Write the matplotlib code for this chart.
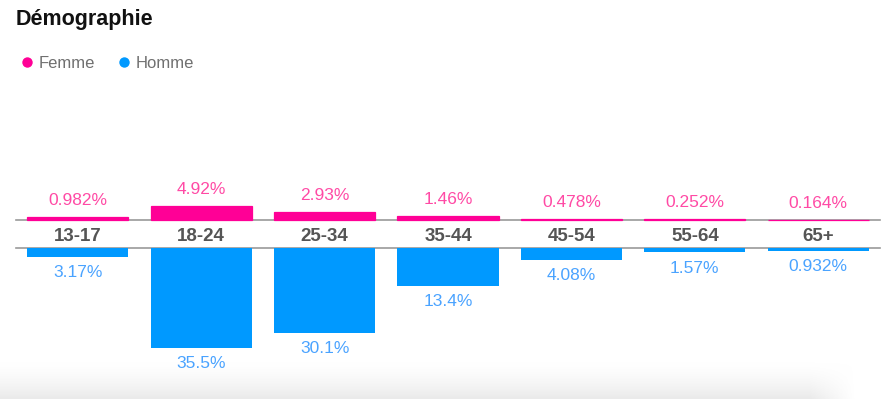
import numpy as np
import matplotlib
matplotlib.use("Agg")
import matplotlib.pyplot as plt
from matplotlib.lines import Line2D

plt.rcParams["font.family"] = ["Liberation Sans", "DejaVu Sans"]

ages = ["13-17", "18-24", "25-34", "35-44", "45-54", "55-64", "65+"]
femme = [0.982, 4.92, 2.93, 1.46, 0.478, 0.252, 0.164]
homme = [3.17, 35.5, 30.1, 13.4, 4.08, 1.57, 0.932]
femme_txt = ["0.982%", "4.92%", "2.93%", "1.46%", "0.478%", "0.252%", "0.164%"]
homme_txt = ["3.17%", "35.5%", "30.1%", "13.4%", "4.08%", "1.57%", "0.932%"]

PINK = "#ff0096"
PINK_TXT = "#ff4aa5"
BLUE = "#0099ff"
BLUE_TXT = "#4aa3ff"
LINE = "#9a9a9a"

W, H = 892, 399
fig = plt.figure(figsize=(W / 100, H / 100), dpi=100)
fig.patch.set_facecolor("white")

# soft grey shadow along the bottom edge
bg = fig.add_axes([0, 0, 1, 38 / H], zorder=-5)
yy = np.linspace(0, 1, 40).reshape(-1, 1)          # 0 top -> 1 bottom
xx = np.linspace(0, 1, 200).reshape(1, -1)
xfade = np.clip((0.96 - xx) / 0.05, 0, 1)
alpha = (yy ** 1.5) * xfade
img = np.zeros((40, 200, 4))
img[..., :3] = 0.92
img[..., 3] = alpha
bg.imshow(img, aspect="auto", extent=(0, 1, 0, 1))
bg.axis("off")

px = 2.82  # pixels per percent
left, right = 16, 880
x = np.arange(len(ages))

top_h = 110
ax_top = fig.add_axes([left / W, (H - 220) / H, (right - left) / W, top_h / H])
bot_h = 135
ax_bot = fig.add_axes([left / W, (H - 248 - bot_h) / H, (right - left) / W, bot_h / H])

ax_top.bar(x, femme, width=0.82, color=PINK, edgecolor=PINK, linewidth=0.9,
           zorder=3, clip_on=False)
ax_top.set_ylim(0, top_h / px)
ax_bot.bar(x, homme, width=0.82, color=BLUE, linewidth=0, zorder=3)
ax_bot.set_ylim(bot_h / px, 0)

for ax in (ax_top, ax_bot):
    ax.set_xlim(-0.5, len(ages) - 0.5)
    ax.set_facecolor("none")
    for s in ax.spines.values():
        s.set_visible(False)
    ax.set_yticks([])

ax_top.spines["bottom"].set_visible(True)
ax_top.spines["bottom"].set_color(LINE)
ax_top.spines["bottom"].set_linewidth(1.2)
ax_top.spines["bottom"].set_zorder(1)
ax_bot.spines["top"].set_visible(True)
ax_bot.spines["top"].set_color(LINE)
ax_bot.spines["top"].set_linewidth(1.2)
ax_bot.spines["top"].set_zorder(1)

ax_top.set_xticks(x, ages)
ax_top.tick_params(axis="x", length=0, pad=6, labelsize=13.5, labelcolor="#555555")
for t in ax_top.get_xticklabels():
    t.set_fontweight("bold")
ax_bot.set_xticks([])

for xi, v, s in zip(x, femme, femme_txt):
    ax_top.annotate(s, (xi, v), xytext=(0, 8.5), textcoords="offset points",
                    ha="center", va="baseline", fontsize=12.5, color=PINK_TXT)
for xi, v, s in zip(x, homme, homme_txt):
    ax_bot.annotate(s, (xi, v), xytext=(0, -6), textcoords="offset points",
                    ha="center", va="top", fontsize=12.5, color=BLUE_TXT)

fig.text(16 / W, 1 - 20 / H, "Démographie", fontsize=15.5, fontweight="bold",
         color="#111111", ha="left", va="center")

handles = [
    Line2D([0], [0], marker="o", color="w", markerfacecolor=PINK, markersize=8.5, label="Femme"),
    Line2D([0], [0], marker="o", color="w", markerfacecolor=BLUE, markersize=8.5, label="Homme"),
]
fig.legend(handles=handles, loc="center left", bbox_to_anchor=(20 / W, 1 - 63 / H),
           ncol=2, frameon=False, handlelength=0.8, handletextpad=0.3,
           columnspacing=1.35, borderaxespad=0, borderpad=0, fontsize=12,
           labelcolor="#707070")

fig.savefig("out.png", dpi=100)
